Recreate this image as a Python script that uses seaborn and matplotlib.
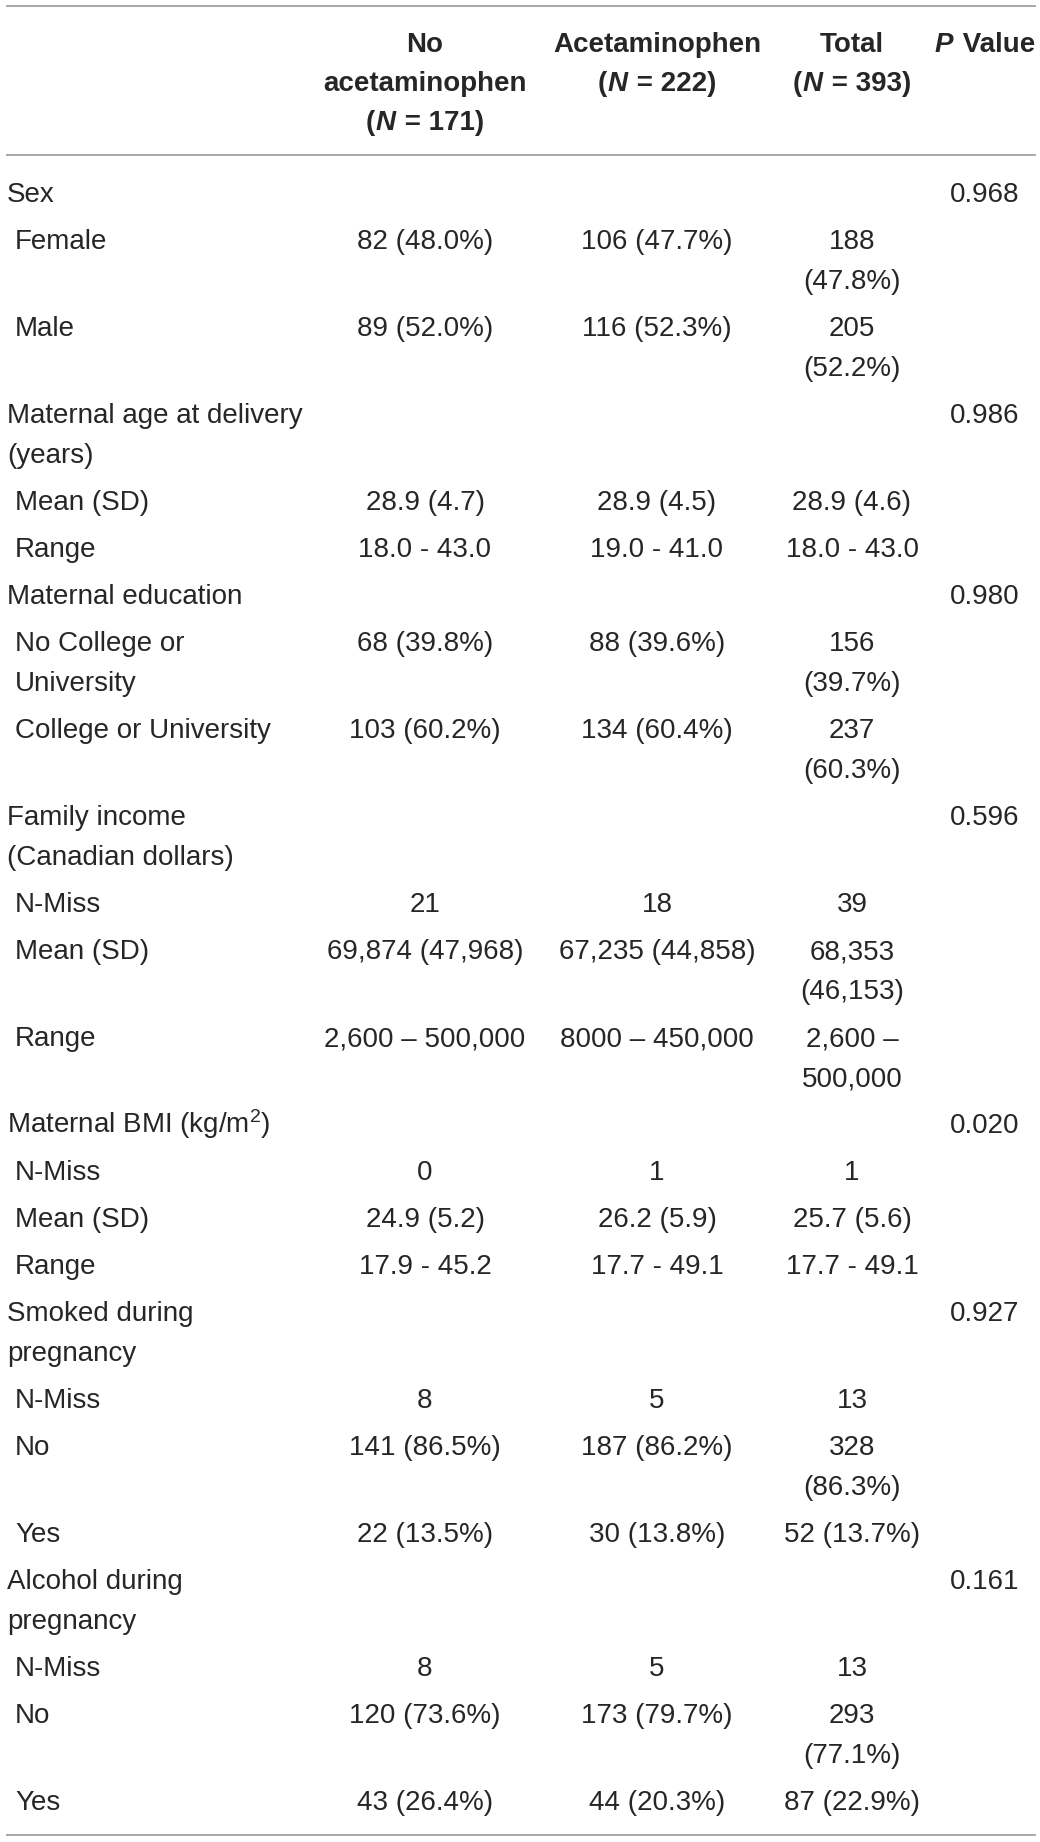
import numpy as np
import pandas as pd
import seaborn as sns
from matplotlib import pyplot as plt

# table content
labels = ["Sex", "Female", "Male", "Maternal age at delivery\n(years)", "Mean (SD)", "Range",
          "Maternal education", "No College or\nUniversity", "College or University",
          "Family income\n(Canadian dollars)", "N-Miss", "Mean (SD)", "Range",
          "Maternal BMI (kg/m$^2$)", "N-Miss", "Mean (SD)", "Range",
          "Smoked during\npregnancy", "N-Miss", "No", "Yes",
          "Alcohol during\npregnancy", "N-Miss", "No", "Yes"]
no_acet = ["", "82 (48.0%)", "89 (52.0%)", "", "28.9 (4.7)", "18.0 - 43.0",
           "", "68 (39.8%)", "103 (60.2%)", "", "21", "69,874 (47,968)", "2,600 – 500,000",
           "", "0", "24.9 (5.2)", "17.9 - 45.2", "", "8", "141 (86.5%)", "22 (13.5%)",
           "", "8", "120 (73.6%)", "43 (26.4%)"]
acet = ["", "106 (47.7%)", "116 (52.3%)", "", "28.9 (4.5)", "19.0 - 41.0",
        "", "88 (39.6%)", "134 (60.4%)", "", "18", "67,235 (44,858)", "8000 – 450,000",
        "", "1", "26.2 (5.9)", "17.7 - 49.1", "", "5", "187 (86.2%)", "30 (13.8%)",
        "", "5", "173 (79.7%)", "44 (20.3%)"]
total = ["", "188\n(47.8%)", "205\n(52.2%)", "", "28.9 (4.6)", "18.0 - 43.0",
         "", "156\n(39.7%)", "237\n(60.3%)", "", "39", "68,353\n(46,153)", "2,600 –\n500,000",
         "", "1", "25.7 (5.6)", "17.7 - 49.1", "", "13", "328\n(86.3%)", "52 (13.7%)",
         "", "13", "293\n(77.1%)", "87 (22.9%)"]
pvals = ["0.968", "", "", "0.986", "", "", "0.980", "", "", "0.596", "", "", "",
         "0.020", "", "", "", "0.927", "", "", "", "0.161", "", "", ""]
group_n = ["171", "222", "393"]

sns.set_theme(style="white")
plt.rcParams["font.family"] = ["Liberation Sans", "DejaVu Sans"]
plt.rcParams["mathtext.fontset"] = "custom"
plt.rcParams["mathtext.rm"] = "Liberation Sans"
plt.rcParams["mathtext.it"] = "Liberation Sans:italic"
plt.rcParams["mathtext.bf"] = "Liberation Sans:bold"

FS = 20
TXT = "#262626"
RULE = "#9a9a9a"
LINE_H = 40
ROW_GAP = 47

fig = plt.figure(figsize=(10.4, 18.42), dpi=100)
ax = fig.add_axes([0, 0, 1, 1])
ax.set_xlim(0, 1040)
ax.set_ylim(1842, 0)
ax.axis("off")
renderer = fig.canvas.get_renderer()

col_x = [425, 657, 852, 985]


def rich(x, y, pieces):
    # centred run of differently styled pieces on one baseline
    objs = []
    for s, w, st in pieces:
        objs.append(ax.text(0, y, s, fontsize=FS, fontweight=w, fontstyle=st,
                            color=TXT, va="baseline", ha="left"))
    widths = [t.get_window_extent(renderer).width + (1.5 if t.get_fontstyle() == "italic" else 0)
              for t in objs]
    cur = x - sum(widths) / 2
    for t, w in zip(objs, widths):
        t.set_x(cur)
        cur += w


B, N = "bold", "normal"
head = [
    [[("No", B, N)], [("acetaminophen", B, N)],
     [("(", B, N), ("N", B, "italic"), (f" = {group_n[0]})", B, N)]],
    [[("Acetaminophen", B, N)], [("(", B, N), ("N", B, "italic"), (f" = {group_n[1]})", B, N)]],
    [[("Total", B, N)], [("(", B, N), ("N", B, "italic"), (f" = {group_n[2]})", B, N)]],
    [[("P", B, "italic"), (" Value", B, N)]],
]
for cx, lines in zip(col_x, head):
    for i, pieces in enumerate(lines):
        rich(cx, 42 + i * 39 + 10, pieces)

ax.hlines([6, 155], 6, 1036, color=RULE, lw=1.2)

y = 192
for lab, a, b, c, p in zip(labels, no_acet, acet, total, pvals):
    indent = 7 if p else 15
    cells = [(indent, lab, "left"), (col_x[0], a, "center"), (col_x[1], b, "center"),
             (col_x[2], c, "center"), (col_x[3], p, "center")]
    nlines = 1
    for x, s, ha in cells:
        parts = s.split("\n") if s else []
        nlines = max(nlines, len(parts))
        for i, part in enumerate(parts):
            ax.text(x, y + i * LINE_H + 10, part, fontsize=FS, color=TXT,
                    ha=ha, va="baseline")
    y += (nlines - 1) * LINE_H + ROW_GAP

ax.hlines([y - ROW_GAP + 35], 6, 1036, color=RULE, lw=1.2)

fig.savefig("out.png", dpi=100)
